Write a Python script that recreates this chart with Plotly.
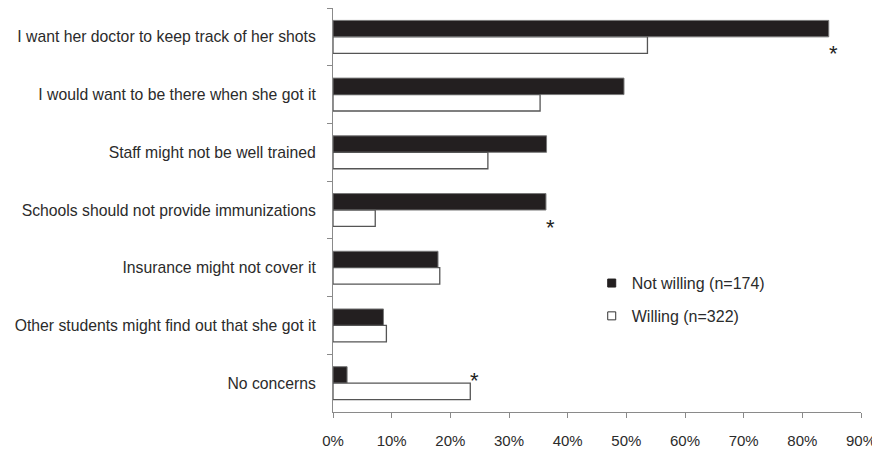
import plotly.graph_objects as go

categories = [
    "I want her doctor to keep track of her shots",
    "I would want to be there when she got it",
    "Staff might not be well trained",
    "Schools should not provide immunizations",
    "Insurance might not cover it",
    "Other students might find out that she got it",
    "No concerns",
]
not_willing = [84.5, 49.6, 36.4, 36.3, 17.9, 8.6, 2.4]
willing = [53.6, 35.3, 26.4, 7.2, 18.2, 9.1, 23.4]
significant = [True, False, False, True, False, False, True]
series_names = ["Not willing (n=174)", "Willing (n=322)"]
x_ticks = [0, 10, 20, 30, 40, 50, 60, 70, 80, 90]
x_tick_labels = ["0%", "10%", "20%", "30%", "40%", "50%", "60%", "70%", "80%", "90%"]

FONT = "Liberation Sans, Arial, sans-serif"
TXT = "#2b2b2b"
AXIS = "#8a8a8a"

fig = go.Figure()
fig.add_trace(go.Bar(
    y=categories, x=not_willing, orientation="h", name=series_names[0],
    marker=dict(color="#231f20", line=dict(color="#777777", width=1)),
    showlegend=False,
))
fig.add_trace(go.Bar(
    y=categories, x=willing, orientation="h", name=series_names[1],
    marker=dict(color="#ffffff", line=dict(color="#555555", width=1.3)),
    showlegend=False,
))
# legend-only entries with small square swatches
fig.add_trace(go.Scatter(
    x=[None], y=[None], mode="markers", name=series_names[0], legendgroup="a",
    marker=dict(symbol="square", size=8, color="#231f20", line=dict(color="#231f20", width=1)),
))
fig.add_trace(go.Scatter(
    x=[None], y=[None], mode="markers", name=series_names[1], legendgroup="b",
    marker=dict(symbol="square", size=8, color="#ffffff", line=dict(color="#333333", width=1)),
))

for i, sig in enumerate(significant):
    if not sig:
        continue
    nw, w = not_willing[i], willing[i]
    xpos = max(nw, w)
    ypos = i + (0.21 if nw > w else -0.14)
    fig.add_annotation(
        x=xpos, y=ypos, xref="x", yref="y", text="*", showarrow=False,
        xanchor="left", yanchor="middle", xshift=-2, yshift=-5,
        font=dict(family=FONT, size=22, color="#222222"),
    )

fig.update_layout(
    width=880, height=453,
    margin=dict(l=325, r=27, t=0, b=49, autoexpand=False),
    paper_bgcolor="white", plot_bgcolor="white",
    barmode="group", bargap=0.43, bargroupgap=0,
    font=dict(family=FONT, size=16, color=TXT),
    legend=dict(
        x=0.49, y=0.361, xanchor="left", yanchor="top",
        font=dict(family=FONT, size=16, color=TXT),
        tracegroupgap=9, bgcolor="rgba(0,0,0,0)",
    ),
    xaxis=dict(
        range=[0, 90], tickmode="array", tickvals=x_ticks, ticktext=x_tick_labels,
        showgrid=False, zeroline=False,
        showline=True, linecolor=AXIS, linewidth=1,
        ticks="outside", ticklen=5, tickcolor=AXIS,
        tickfont=dict(family=FONT, size=15, color=TXT),
        ticklabelstandoff=10, automargin=False,
    ),
    yaxis=dict(
        type="category", range=[6.5, -0.5],
        showgrid=False, zeroline=False,
        showline=True, linecolor=AXIS, linewidth=1,
        ticks="outside", ticklen=5, tickcolor=AXIS, tickson="boundaries",
        tickfont=dict(family=FONT, size=15.75, color=TXT),
        ticklabelstandoff=13, automargin=False,
    ),
)

fig.write_html("out.html")
